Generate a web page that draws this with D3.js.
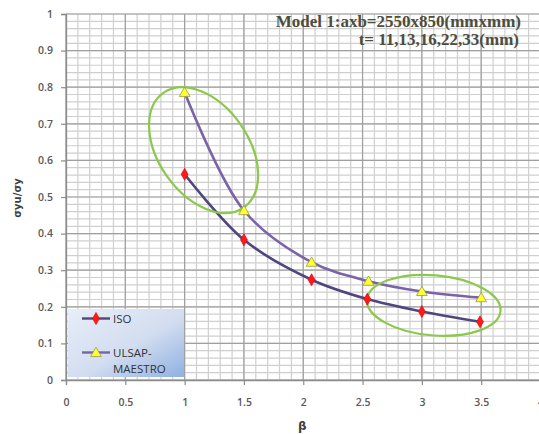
<!DOCTYPE html>
<html>
<head>
<meta charset="utf-8">
<script src="https://cdn.jsdelivr.net/npm/d3@7"></script>
<style>
  html,body{margin:0;padding:0;background:#fff;}
  svg{display:block;}
</style>
</head>
<body>
<svg id="chart" width="539" height="434"></svg>
<script>
// ---- data ----
const isoBeta   = [1.0, 1.5, 2.07, 2.54, 3.0, 3.49];
const isoValues = [0.562, 0.383, 0.274, 0.221, 0.187, 0.159];
const ulsapBeta   = [1.0, 1.5, 2.07, 2.55, 3.0, 3.5];
const ulsapValues = [0.786, 0.463, 0.322, 0.270, 0.242, 0.225];
const xTicks = [0, 0.5, 1, 1.5, 2, 2.5, 3, 3.5, 4];
const yTicks = [0, 0.1, 0.2, 0.3, 0.4, 0.5, 0.6, 0.7, 0.8, 0.9, 1];
const seriesNames = ["ISO", "ULSAP-MAESTRO"];
const titleLines = ["Model 1:axb=2550x850(mmxmm)", "t= 11,13,16,22,33(mm)"];
// highlight ellipses in data units: centre (beta, ratio)
const ellipseCentres = [[1.16, 0.628], [3.10, 0.204]];

// ---- layout ----
const svg = d3.select("#chart");
const L = 66, R = 540.5, T = 14, B = 380;
const x = d3.scaleLinear().domain([0, 4]).range([L, R]);
const y = d3.scaleLinear().domain([0, 1]).range([B, T]);

// minor grid
const g = svg.append("g");
g.selectAll(".vmin").data(d3.range(0, 41).map(i => i / 10)).join("line")
  .attr("x1", d => x(d)).attr("x2", d => x(d)).attr("y1", T).attr("y2", B)
  .attr("stroke", "#cfcfcf").attr("stroke-width", 1.2);
g.selectAll(".hmin").data(d3.range(0, 51).map(i => i / 50)).join("line")
  .attr("x1", L).attr("x2", R).attr("y1", d => y(d)).attr("y2", d => y(d))
  .attr("stroke", "#cfcfcf").attr("stroke-width", 1.2);
// major grid
g.selectAll(".vmaj").data(xTicks).join("line")
  .attr("x1", d => x(d)).attr("x2", d => x(d)).attr("y1", T).attr("y2", B)
  .attr("stroke", "#a0a0a0").attr("stroke-width", 1.2);
g.selectAll(".hmaj").data(yTicks).join("line")
  .attr("x1", L).attr("x2", R).attr("y1", d => y(d)).attr("y2", d => y(d))
  .attr("stroke", "#a0a0a0").attr("stroke-width", 1.2);

// axes
const fmt = d => String(d);
const xAxis = svg.append("g").attr("transform", `translate(0,${B})`)
  .call(d3.axisBottom(x).tickValues(xTicks).tickFormat(fmt).tickSize(5).tickPadding(14));
const yAxis = svg.append("g").attr("transform", `translate(${L},0)`)
  .call(d3.axisLeft(y).tickValues(yTicks).tickFormat(fmt).tickSize(5).tickPadding(8));
[xAxis, yAxis].forEach(a => {
  a.select(".domain").attr("stroke", "#8c8c8c").attr("stroke-width", 1.3);
  a.selectAll(".tick line").attr("stroke", "#8c8c8c").attr("stroke-width", 1.2);
  a.selectAll(".tick text").attr("fill", "#595959")
    .style("font-family", "'Open Sans', sans-serif").style("font-size", "10.5px").style("font-weight", "600");
});

// axis titles
svg.append("text").attr("x", x(2) - 1).attr("y", 430).attr("text-anchor", "middle")
  .style("font-family", "'DejaVu Sans', sans-serif").style("font-weight", "bold").style("font-size", "12px")
  .attr("fill", "#404040").text("β");
svg.append("text").attr("transform", "translate(21,198) rotate(-90)").attr("text-anchor", "middle")
  .style("font-family", "'DejaVu Sans', sans-serif").style("font-weight", "bold").style("font-size", "10px")
  .attr("fill", "#404040").text("σyu/σy");

// series lines
const line = d3.line().x(d => x(d[0])).y(d => y(d[1])).curve(d3.curveCatmullRom.alpha(0.5));
const isoPts = isoBeta.map((b, i) => [b, isoValues[i]]);
const ulPts = ulsapBeta.map((b, i) => [b, ulsapValues[i]]);
svg.append("path").attr("d", line(ulPts)).attr("fill", "none").attr("stroke", "#7b63a8").attr("stroke-width", 2.6);
svg.append("path").attr("d", line(isoPts)).attr("fill", "none").attr("stroke", "#50467f").attr("stroke-width", 2.6);

// ellipses
const ellipseSpecs = [{rx: 45, ry: 70, rot: -35}, {rx: 67, ry: 30, rot: 5}];
svg.selectAll(".ell").data(ellipseCentres).join("ellipse")
  .attr("cx", 0).attr("cy", 0)
  .attr("rx", (d, i) => ellipseSpecs[i].rx).attr("ry", (d, i) => ellipseSpecs[i].ry)
  .attr("transform", (d, i) => `translate(${x(d[0])},${y(d[1])}) rotate(${ellipseSpecs[i].rot})`)
  .attr("fill", "none").attr("stroke", "#8cc84b").attr("stroke-width", 2.2);

// markers
const diamond = d3.symbol().type(d3.symbolDiamond).size(42);
const tri = d3.symbol().type(d3.symbolTriangle).size(50);
svg.selectAll(".iso").data(isoPts).join("path")
  .attr("d", diamond).attr("transform", d => `translate(${x(d[0])},${y(d[1])})`)
  .attr("fill", "#ff1a1a").attr("stroke", "#e00000").attr("stroke-width", 0.6);
svg.selectAll(".ul").data(ulPts).join("path")
  .attr("d", tri).attr("transform", d => `translate(${x(d[0])},${y(d[1]) + 1})`)
  .attr("fill", "#ffff33").attr("stroke", "#9a9a40").attr("stroke-width", 0.8);

// title
svg.append("text").attr("x", 521).attr("y", 26.5).attr("text-anchor", "end")
  .style("font-family", "'Liberation Serif', serif").style("font-weight", "bold").style("font-size", "17px")
  .attr("fill", "#4d4d3e").text(titleLines[0]);
svg.append("text").attr("x", 519).attr("y", 44.5).attr("text-anchor", "end")
  .style("font-family", "'Liberation Serif', serif").style("font-weight", "bold").style("font-size", "17px")
  .attr("fill", "#4d4d3e").text(titleLines[1]);

// legend
const defs = svg.append("defs");
const grad = defs.append("linearGradient").attr("id", "lg").attr("x1", "0").attr("y1", "0").attr("x2", "1").attr("y2", "1");
grad.append("stop").attr("offset", "0").attr("stop-color", "#e8eef8");
grad.append("stop").attr("offset", "0.55").attr("stop-color", "#d2ddf0");
grad.append("stop").attr("offset", "1").attr("stop-color", "#8fb0e2");
const lg = svg.append("g");
lg.append("rect").attr("x", 68).attr("y", 309).attr("width", 116).attr("height", 68).attr("fill", "url(#lg)");
const legendY = [318.5, 352.5];
const legendColors = ["#50467f", "#7b63a8"];
legendY.forEach((ly, i) => {
  lg.append("line").attr("x1", 82).attr("x2", 110).attr("y1", ly).attr("y2", ly)
    .attr("stroke", legendColors[i]).attr("stroke-width", 2.4);
});
lg.append("path").attr("d", diamond).attr("transform", `translate(96,${legendY[0]})`).attr("fill", "#ff1a1a").attr("stroke", "#e00000").attr("stroke-width", 0.6);
lg.append("path").attr("d", tri).attr("transform", `translate(96,${legendY[1] + 1})`).attr("fill", "#ffff33").attr("stroke", "#9a9a40").attr("stroke-width", 0.8);
const lstyle = t => t.style("font-family", "'Open Sans', sans-serif").style("font-size", "11.5px").attr("fill", "#333");
lg.append("text").attr("x", 113).attr("y", 322.5).text(seriesNames[0]).call(lstyle);
lg.append("text").attr("x", 113).attr("y", 356.5).text("ULSAP-").call(lstyle);
lg.append("text").attr("x", 113).attr("y", 373).text("MAESTRO").call(lstyle);
</script>
</body>
</html>
